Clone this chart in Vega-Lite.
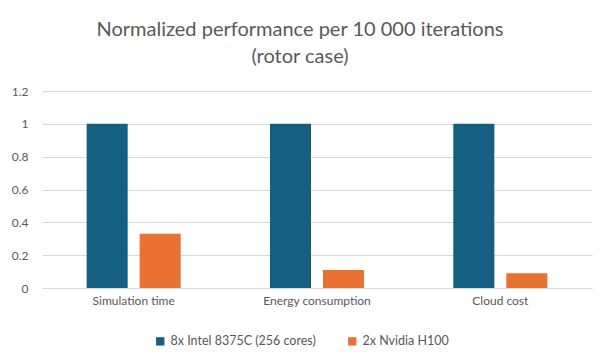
{
  "$schema": "https://vega.github.io/schema/vega-lite/v6.json",
  "width": 550,
  "height": 197,
  "autosize": {"type": "none"},
  "padding": {"left": 42, "top": 91, "right": 8, "bottom": 73},
  "background": "white",
  "config": {
    "view": {"stroke": null},
    "font": "Lato",
    "axis": {"labelColor": "#595959", "labelFontSize": 12, "labelFont": "Lato", "ticks": false, "domain": false, "gridColor": "#d9d9d9", "gridWidth": 1},
    "legend": {"labelColor": "#595959", "labelFontSize": 12.5, "labelFont": "Lato"}
  },
  "title": {
    "text": ["Normalized performance per 10 000 iterations", "(rotor case)"],
    "fontSize": 20,
    "font": "Lato",
    "fontWeight": "normal",
    "color": "#595959",
    "anchor": "middle",
    "dx": -17,
    "offset": 18,
    "lineHeight": 27
  },
  "data": {
    "values": [
      {"metric": "Simulation time", "hw": "8x Intel 8375C (256 cores)", "value": 1},
      {"metric": "Simulation time", "hw": "2x Nvidia H100", "value": 0.33},
      {"metric": "Energy consumption", "hw": "8x Intel 8375C (256 cores)", "value": 1},
      {"metric": "Energy consumption", "hw": "2x Nvidia H100", "value": 0.11},
      {"metric": "Cloud cost", "hw": "8x Intel 8375C (256 cores)", "value": 1},
      {"metric": "Cloud cost", "hw": "2x Nvidia H100", "value": 0.09}
    ]
  },
  "mark": {"type": "bar"},
  "encoding": {
    "x": {
      "field": "metric", "type": "nominal", "sort": null,
      "scale": {"paddingInner": 0.487, "paddingOuter": 0.2435},
      "axis": {"title": null, "labelAngle": 0, "labelPadding": 7, "grid": false, "domain": true, "domainColor": "#d9d9d9"}
    },
    "xOffset": {
      "field": "hw", "type": "nominal", "sort": null,
      "scale": {"paddingInner": 0.226, "paddingOuter": 0}
    },
    "y": {
      "field": "value", "type": "quantitative",
      "scale": {"domain": [0, 1.2], "nice": false},
      "axis": {"title": null, "values": [0, 0.2, 0.4, 0.6, 0.8, 1, 1.2], "labelPadding": 14, "format": "~g"}
    },
    "color": {
      "field": "hw", "type": "nominal", "sort": null,
      "scale": {"range": ["#156082", "#E97132"]},
      "legend": {"title": null, "orient": "none", "legendX": 112, "legendY": 244, "direction": "horizontal", "symbolType": "square", "symbolSize": 70, "columnPadding": 30}
    }
  }
}
